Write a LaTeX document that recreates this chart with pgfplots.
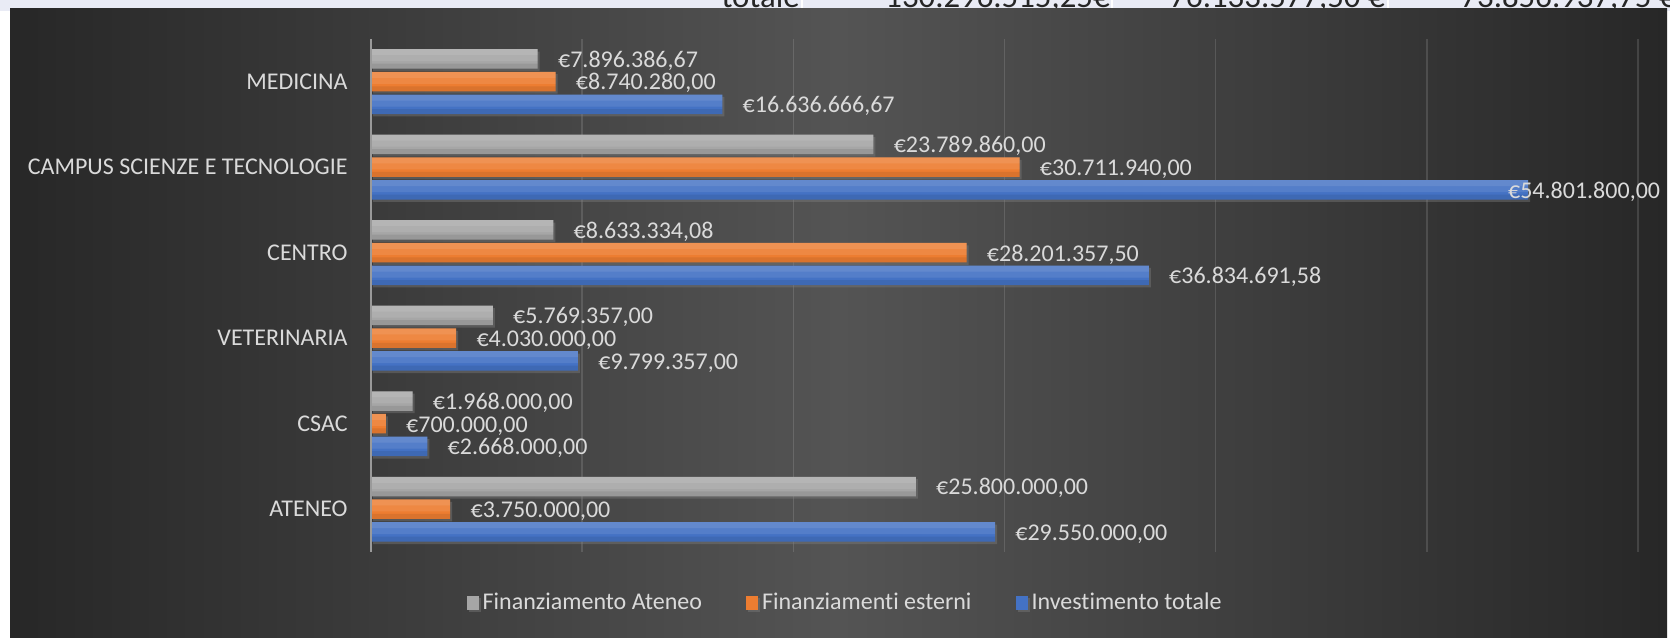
\documentclass[border=0pt]{standalone}
\usepackage{pgfplots}
\usepackage{pgfplotstable}
\pgfplotsset{compat=1.18}
\usepackage{fontspec}
\setmainfont{Carlito}[Ligatures=NoCommon]
\usetikzlibrary{shadows}
\definecolor{bgdark}{HTML}{272727}
\definecolor{bglight}{HTML}{545454}
\definecolor{lab}{HTML}{DADADA}
\definecolor{grayC}{HTML}{A6A6A6}
\definecolor{orC}{HTML}{ED7D31}
\definecolor{blC}{HTML}{4472C4}
\definecolor{strip}{HTML}{E9EBF5}
\definecolor{axisc}{HTML}{9A9A9A}
\pgfplotstableread{
c v t dx
0 25800000 €25.800.000,00 10
1 1968000 €1.968.000,00 10
2 5769357 €5.769.357,00 10
3 8633334.08 €8.633.334,08 10
4 23789860 €23.789.860,00 10
5 7896386.67 €7.896.386,67 10
}\ateneo
\pgfplotstableread{
c v t dx
0 3750000 €3.750.000,00 10
1 700000 €700.000,00 10
2 4030000 €4.030.000,00 10
3 28201357.5 €28.201.357,50 10
4 30711940 €30.711.940,00 10
5 8740280 €8.740.280,00 10
}\esterni
\pgfplotstableread{
c v t dx
0 29550000 €29.550.000,00 10
1 2668000 €2.668.000,00 10
2 9799357 €9.799.357,00 10
3 36834691.58 €36.834.691,58 10
4 54801800 €54.801.800,00 -10.25
5 16636666.67 €16.636.666,67 10
}\totale
\begin{document}
\begin{tikzpicture}
\useasboundingbox (0,0) rectangle (835pt,318.5pt);
\fill[white] (0,0) rectangle (835pt,318.5pt);
\fill[strip] (0,313pt) rectangle (835pt,318.5pt);
\begin{scope}[font=\fontsize{16.4}{18}\selectfont, text=black!85]
\node[anchor=base east, inner sep=0pt] at (400pt,314.6pt) {totale};
\node[anchor=base east, inner sep=0pt] at (555pt,314.6pt) {130.296.515,25€};
\node[anchor=base east, inner sep=0pt] at (692.5pt,314.6pt) {76.133.577,50 €};
\node[anchor=base east, inner sep=0pt] at (838pt,314.6pt) {73.856.937,75 €};
\end{scope}
\foreach \xx in {401,556,694} \draw[white, line width=1pt] (\xx pt,313pt) -- (\xx pt,320pt);
\shade[left color=bgdark, right color=bgdark, middle color=bglight] (5pt,0) rectangle (833.5pt,314pt);
\begin{axis}[
  at={(185.5pt,42.5pt)}, anchor=south west,
  scale only axis, width=633.5pt, height=256.6pt,
  xmin=0, xmax=60000000, ymin=-0.5, ymax=5.5,
  clip=false,
  scaled x ticks=false,
  axis line style={draw=none},
  xtick={0,10000000,20000000,30000000,40000000,50000000,60000000},
  xticklabels={},
  xmajorgrids, grid style={white, opacity=0.13, line width=0.7pt},
  ytick={0,1,2,3,4,5},
  yticklabels={ATENEO,CSAC,VETERINARIA,CENTRO,CAMPUS SCIENZE E TECNOLOGIE,MEDICINA},
  major tick length=0pt, tick style={draw=none},
  yticklabel style={font=\fontsize{12}{14}\selectfont, text=lab, inner sep=0pt, xshift=-11.5pt},
  xbar, bar width=9.75pt,
  lbl/.style={nodes near coords, point meta=explicit symbolic,
    visualization depends on={\thisrow{dx}\as\dx},
    nodes near coords style={font=\fontsize{12}{14}\selectfont, text=lab, anchor=base west,
      inner sep=0pt, xshift=\dx pt, yshift=-4.2pt}},
  hl/.style={forget plot, draw=none, fill=white, fill opacity=0.09},
  dk/.style={forget plot, draw=none, fill=black, fill opacity=0.08},
  legend style={at={(0.375,-0.0994)}, anchor=center, legend columns=3, draw=none, fill=none,
    text=lab, font=\fontsize{12}{14}\selectfont, inner sep=0pt,
    /tikz/every even column/.append style={column sep=20pt}},
]
\addplot[bar shift=11.35pt, draw=none, fill=grayC, lbl,
  drop shadow={shadow xshift=1pt, shadow yshift=-1.2pt, opacity=0.4},
  legend image code/.code={\fill[grayC] (0pt,-3.5pt) rectangle (6pt,3.5pt);}]
  table[x=v, y=c, meta=t] {\ateneo};
\addlegendentry{Finanziamento Ateneo}
\addplot[hl, bar width=3pt, bar shift=14.725pt] table[x=v, y=c] {\ateneo};
\addplot[hl, bar width=6pt, bar shift=13.225pt] table[x=v, y=c] {\ateneo};
\addplot[dk, bar width=2.5pt, bar shift=7.725pt] table[x=v, y=c] {\ateneo};
\addplot[bar shift=0pt, draw=none, fill=orC, lbl,
  drop shadow={shadow xshift=1pt, shadow yshift=-1.2pt, opacity=0.4},
  legend image code/.code={\fill[orC] (0pt,-3.5pt) rectangle (6pt,3.5pt);}]
  table[x=v, y=c, meta=t] {\esterni};
\addlegendentry{Finanziamenti esterni}
\addplot[hl, bar width=3pt, bar shift=3.375pt] table[x=v, y=c] {\esterni};
\addplot[hl, bar width=6pt, bar shift=1.875pt] table[x=v, y=c] {\esterni};
\addplot[dk, bar width=2.5pt, bar shift=-3.625pt] table[x=v, y=c] {\esterni};
\addplot[bar shift=-11.35pt, draw=none, fill=blC, lbl,
  drop shadow={shadow xshift=1pt, shadow yshift=-1.2pt, opacity=0.4},
  legend image code/.code={\fill[blC] (0pt,-3.5pt) rectangle (6pt,3.5pt);}]
  table[x=v, y=c, meta=t] {\totale};
\addlegendentry{Investimento totale}
\addplot[hl, bar width=3pt, bar shift=-7.975pt] table[x=v, y=c] {\totale};
\addplot[hl, bar width=6pt, bar shift=-9.475pt] table[x=v, y=c] {\totale};
\addplot[dk, bar width=2.5pt, bar shift=-14.975pt] table[x=v, y=c] {\totale};
\draw[axisc, line width=1pt] (axis cs:0,-0.5) -- (axis cs:0,5.5);
\end{axis}
\end{tikzpicture}
\end{document}
